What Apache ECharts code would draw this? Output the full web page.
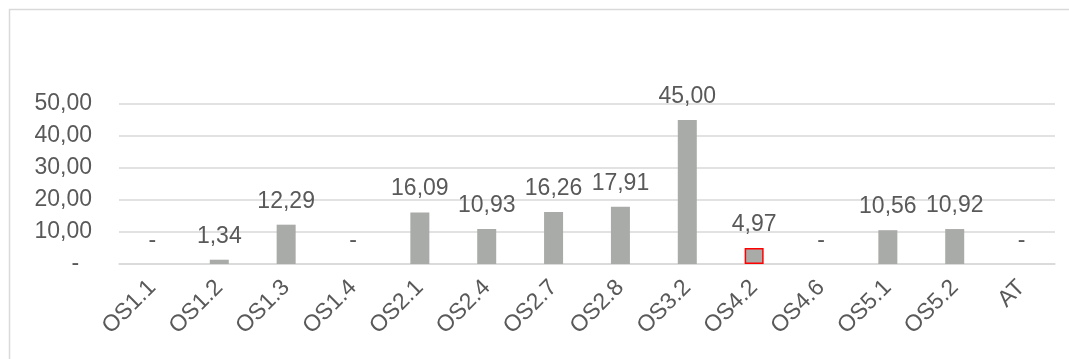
<!DOCTYPE html>
<html>
<head>
<meta charset="utf-8">
<script src="https://cdn.jsdelivr.net/npm/echarts@6/dist/echarts.min.js"></script>
<style>html,body{margin:0;padding:0;background:#fff;}#c{width:1069px;height:359px;}</style>
</head>
<body>
<div id="c"></div>
<script>
var categories = ['OS1.1','OS1.2','OS1.3','OS1.4','OS2.1','OS2.4','OS2.7','OS2.8','OS3.2','OS4.2','OS4.6','OS5.1','OS5.2','AT'];
var values = [0, 1.34, 12.29, 0, 16.09, 10.93, 16.26, 17.91, 45.00, 4.97, 0, 10.56, 10.92, 0];
var highlighted = ['OS4.2'];

function fmt(v) {
  if (v === 0) return '-';
  return v.toFixed(2).replace('.', ',');
}

var chart = echarts.init(document.getElementById('c'));
var data = values.map(function (v, i) {
  var d = { value: v };
  if (highlighted.indexOf(categories[i]) >= 0) {
    d.itemStyle = { borderColor: '#FF0000', borderWidth: 1.5 };
  }
  return d;
});
chart.setOption({
  animation: false,
  textStyle: { fontFamily: 'Liberation Sans, Arial, sans-serif' },
  graphic: [{
    type: 'rect', left: 7, top: 7,
    shape: { width: 1120, height: 420 },
    style: { fill: 'none', stroke: '#d9d9d9', lineWidth: 1.5 },
    silent: true
  }],
  grid: { left: 119, right: 14, top: 104, bottom: 95 },
  xAxis: {
    type: 'category',
    data: categories,
    axisLine: { lineStyle: { color: '#d9d9d9', width: 1.5 } },
    axisTick: { show: false },
    axisLabel: { rotate: 45, color: '#595959', fontSize: 23, margin: 20, interval: 0 }
  },
  yAxis: {
    type: 'value',
    min: 0, max: 50, interval: 10,
    axisLine: { show: false },
    axisTick: { show: false },
    splitLine: { lineStyle: { color: '#d9d9d9', width: 1.5 } },
    axisLabel: {
      color: '#595959', fontSize: 23, margin: 27,
      formatter: function (v) { return v === 0 ? '-  ' : fmt(v); }
    }
  },
  series: [{
    type: 'bar',
    data: data,
    barWidth: 19,
    itemStyle: { color: '#A9ABA8' },
    label: {
      show: true, position: 'top', distance: 12,
      color: '#595959', fontSize: 23,
      formatter: function (p) { return fmt(p.value); }
    }
  }]
});
</script>
</body>
</html>
